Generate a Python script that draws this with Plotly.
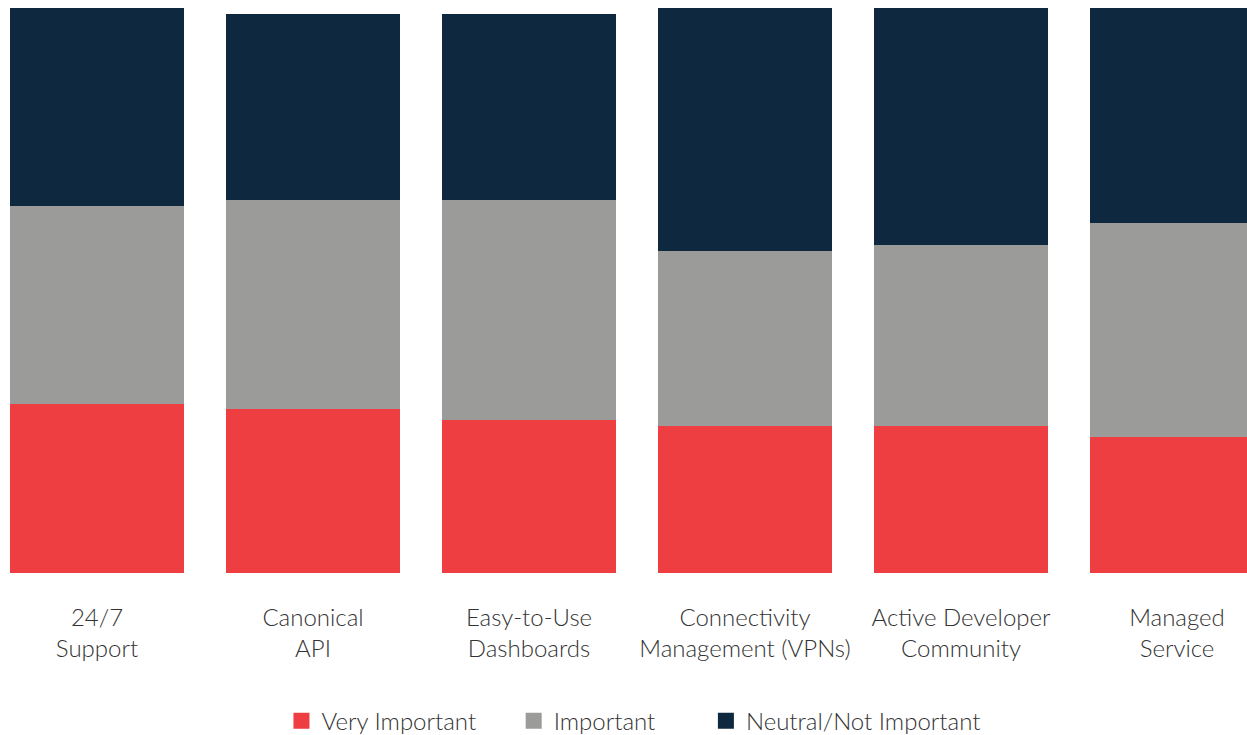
import plotly.graph_objects as go

categories = ["24/7<br>Support", "Canonical<br>API", "Easy-to-Use<br>Dashboards",
              "Connectivity<br>Management (VPNs)", "Active Developer<br>Community",
              "Managed<br>Service"]
very_important = [30, 29, 27, 26, 26, 24]
important = [35, 37, 39, 31, 32, 38]
neutral = [35, 33, 33, 43, 42, 38]

series = [("Very Important", very_important, "#EF3E42"),
          ("Important", important, "#9B9B99"),
          ("Neutral/Not Important", neutral, "#0E2840")]

fig = go.Figure()
for name, vals, col in series:
    fig.add_trace(go.Bar(x=list(range(len(categories))), y=vals, name=name,
                         marker=dict(color=col, line=dict(width=0)),
                         showlegend=False, legendgroup=name,
                         hoverinfo="y+name"))
pads = ["\u00a0" * 5, "\u00a0" * 7, ""]
for (name, vals, col), pad in zip(series, pads):
    fig.add_trace(go.Scatter(x=[None], y=[None], mode="markers", name=name + pad,
                             marker=dict(symbol="square", size=18, color=col),
                             legendgroup=name, showlegend=True))

font = dict(family="Lato, 'Open Sans', sans-serif", size=24, color="#333333", weight=300)
fig.update_layout(
    barmode="stack", bargap=0.194,
    width=1247, height=735,
    margin=dict(l=0, r=0, t=8, b=162, autoexpand=False),
    paper_bgcolor="white", plot_bgcolor="white",
    font=font,
    showlegend=True,
    legend=dict(orientation="h", x=0.508, xanchor="center", y=-0.262, yanchor="middle",
                font=font, traceorder="normal", itemwidth=30, itemsizing="trace"),
    xaxis=dict(range=[-0.449, 5.324], tickmode="array",
               tickvals=list(range(len(categories))), ticktext=categories,
               showgrid=False, zeroline=False, showline=False, automargin=False,
               ticks="outside", ticklen=23, tickcolor="rgba(0,0,0,0)",
               tickfont=font),
    yaxis=dict(range=[0, 100], visible=False, showgrid=False, zeroline=False),
)
fig.write_html(
    "out.html",
    config={"displayModeBar": False},
    post_script=("document.documentElement.style.overflow='hidden';"
                 "document.body.style.margin='0';document.body.style.overflow='hidden';"),
)
